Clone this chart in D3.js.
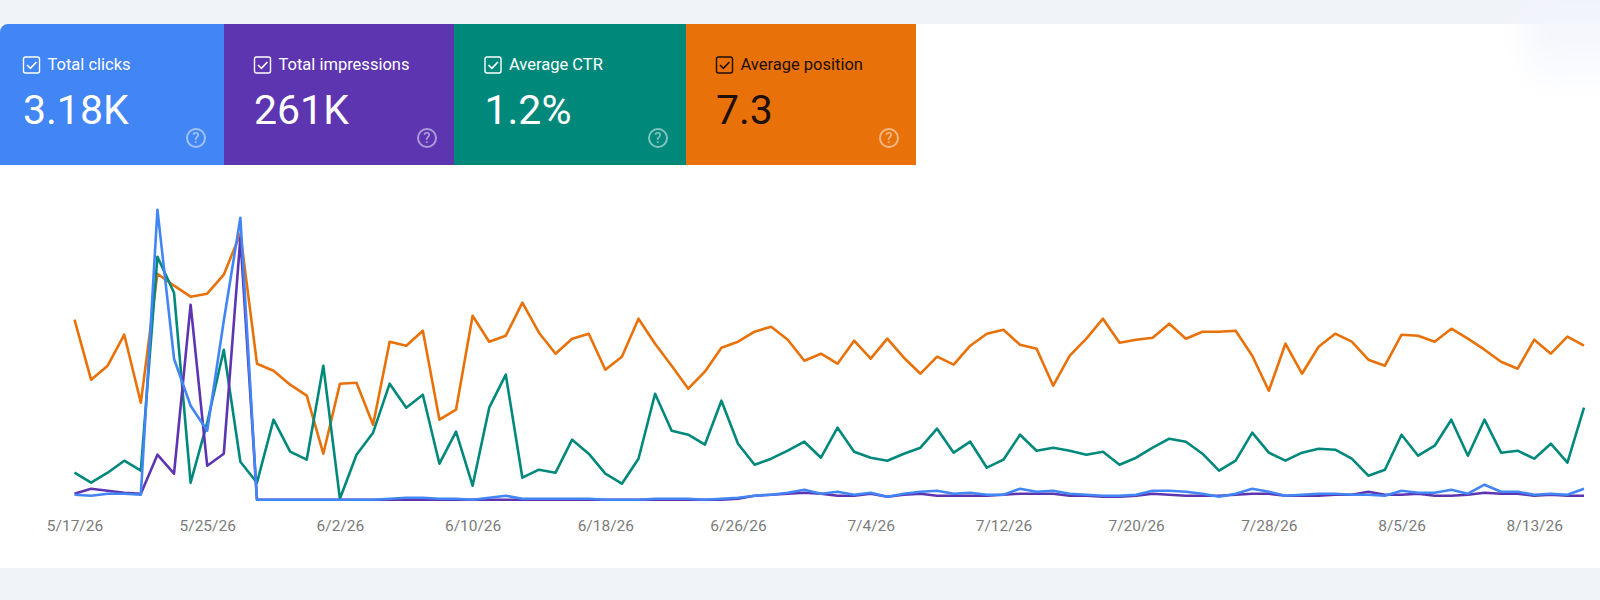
<!DOCTYPE html>
<html><head><meta charset="utf-8">
<script src="https://cdn.jsdelivr.net/npm/d3@7/dist/d3.min.js"></script>
<style>html,body{margin:0;padding:0;background:#f0f3f8;overflow:hidden}svg{display:block}text{font-family:Roboto,sans-serif}</style>
</head><body><svg id="c" width="1600" height="600"></svg>
<script>
// The reference has no y axis, so every series is read as relative height on a shared 0-300 index.
const startDate = "2026-05-17";
const tickEvery = [0,8,16,24,32,40,48,56,64,72,80,88];
const cardLabels = ["Total clicks","Total impressions","Average CTR","Average position"];
const cardValues = ["3.18K","261K","1.2%","7.3"];
const position = [181,121,135,166,98,227,215,204,207,226,267,137,130,116,105,47,117,118,76,159,155,170,81,91,185,159,165,198,168,147,162,167,131,144,182,157,135,112,129,153,159,169,174,161,140,147,137,160,142,162,143,127,144,136,155,167,171,156,152,115,145,162,182,158,161,163,177,162,169,169,170,145,110,157,127,154,167,159,141,135,166,165,159,172,162,151,139,132,161,147,164,155];
const ctr = [28,18,28,40,30,244,208,18,78,151,39,18,81,49,41,135,2,46,68,117,93,106,37,69,15,93,126,23,31,28,61,47,27,17,42,107,70,66,56,100,57,36,42,50,59,43,73,49,43,40,47,53,72,48,59,33,41,66,50,53,50,46,49,36,43,53,62,59,47,30,40,68,48,40,48,52,51,42,25,31,66,45,55,81,45,81,48,50,42,57,38,93];
const impressions = [7,12,10,8,7,46,27,196,35,47,263,1,1,1,1,1,1,1,1,1,1,1,1,1,1,1,1,1,1,1,1,1,1,1,1,1,1,1,1,1,2,5,6,7,8,7,5,5,7,4,6,7,5,5,5,5,6,7,7,7,5,5,4,4,5,7,6,5,5,5,6,7,7,5,5,5,6,6,9,6,6,7,5,5,6,8,7,7,5,6,5,5];
const clicks = [6,5,7,7,6,291,142,95,70,180,283,1,1,1,1,1,1,1,1,2,3,3,2,2,1,3,5,2,2,2,2,2,1,1,1,2,2,2,1,2,3,5,6,8,11,7,9,6,8,4,7,9,10,7,8,6,6,12,9,10,7,6,5,5,6,10,10,9,7,4,7,12,9,5,6,7,7,6,6,5,10,8,8,11,7,16,9,9,6,7,6,12];

const svg = d3.select("#c");
const defs = svg.append("defs");
const g1 = defs.append("linearGradient").attr("id","fade").attr("x1",0).attr("x2",0).attr("y1",0).attr("y2",1);
g1.append("stop").attr("offset","0%").attr("stop-color","#f0f3fc");
g1.append("stop").attr("offset","100%").attr("stop-color","#ffffff");
defs.append("filter").attr("id","soft").attr("x","-40%").attr("y","-40%").attr("width","180%").attr("height","180%")
  .append("feGaussianBlur").attr("stdDeviation",14);

svg.append("rect").attr("x",-12).attr("y",24).attr("width",1630).attr("height",544).attr("rx",12).attr("fill","#fff");
svg.append("rect").attr("x",1525).attr("y",10).attr("width",120).attr("height",85).attr("fill","url(#fade)").attr("filter","url(#soft)");

// cards
const cardFill = ["#4285f4","#5e35b1","#00897b","#e8710a"];
const cardInk = ["#fff","#fff","#fff","#1d0f04"];
const edges = [0,224,454,686,916];
const contentX = [0,231,461.5,693];
const helpX = [196,196,196.5,196];
svg.selectAll("path.cardbg").data(cardFill).join("path").attr("class","cardbg")
  .attr("d",(d,i)=>{const p=d3.path();const l=edges[i],r=edges[i+1];
    if(i===0){p.moveTo(l,32);p.arc(l+8,32,8,Math.PI,1.5*Math.PI);}else{p.moveTo(l,24);}
    p.lineTo(r,24);p.lineTo(r,165);p.lineTo(l,165);p.closePath();return p.toString();})
  .attr("fill",d=>d);
const card = svg.selectAll("g.card").data(cardLabels).join("g").attr("class","card")
  .attr("transform",(d,i)=>`translate(${contentX[i]},24)`);
card.append("rect").attr("x",23.5).attr("y",33).attr("width",16).attr("height",16).attr("rx",2)
  .attr("fill","none").attr("stroke",(d,i)=>cardInk[i]).attr("stroke-width",1.4);
card.append("path").attr("d","M27 41l3.4 3.4 6-6.4").attr("fill","none")
  .attr("stroke",(d,i)=>cardInk[i]).attr("stroke-width",1.6);
card.append("text").attr("x",47.5).attr("y",46).attr("font-size",16.5).attr("fill",(d,i)=>cardInk[i]).text(d=>d);
card.append("text").attr("x",23).attr("y",100).attr("font-size",41).attr("fill",(d,i)=>cardInk[i]).text((d,i)=>cardValues[i]);
const help = card.append("g").attr("transform",(d,i)=>`translate(${helpX[i]},114)`).attr("opacity",.5);
help.append("circle").attr("r",9).attr("fill","none").attr("stroke","#fff").attr("stroke-width",2);
help.append("text").attr("text-anchor","middle").attr("y",5.2).attr("font-size",15).attr("font-weight",500).attr("fill","#fff").text("?");

// chart
const parse = d3.utcParse("%Y-%m-%d");
const dates = position.map((d,i)=>d3.utcDay.offset(parse(startDate),i));
const x = d3.scaleUtc().domain(d3.extent(dates)).range([74.5,1584]);
const y = d3.scaleLinear().domain([0,300]).range([500.7,200.7]);
const line = d3.line().x((d,i)=>x(dates[i])).y(d=>y(d)).curve(d3.curveLinear);
const series = [[position,"#e8710a"],[ctr,"#00897b"],[impressions,"#5e35b1"],[clicks,"#4285f4"]];
svg.selectAll("path.s").data(series).join("path").attr("class","s")
  .attr("d",d=>line(d[0])).attr("fill","none").attr("stroke",d=>d[1]).attr("stroke-width",2.6).attr("stroke-linejoin","round");

const fmt = d=>`${d.getUTCMonth()+1}/${d.getUTCDate()}/${String(d.getUTCFullYear()).slice(2)}`;
const ax = svg.append("g").attr("transform","translate(0,518)")
  .call(d3.axisBottom(x).tickValues(tickEvery.map(i=>dates[i])).tickFormat(fmt).tickSize(0).tickPadding(0));
ax.select(".domain").remove();
ax.selectAll("text").attr("font-size",15.5).attr("fill","#7b7b7b").attr("dy","0.85em").style("font-family","Roboto,sans-serif");
</script></body></html>
